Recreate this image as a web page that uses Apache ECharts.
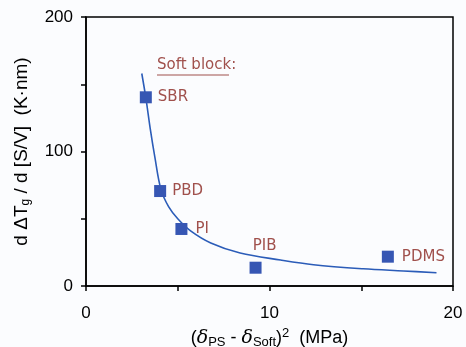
<!DOCTYPE html>
<html>
<head>
<meta charset="utf-8">
<script src="https://cdn.jsdelivr.net/npm/echarts@6/dist/echarts.min.js"></script>
<style>
  html, body { margin: 0; padding: 0; background: #fbfcfe; }
  #main { width: 466px; height: 347px; }
</style>
</head>
<body>
<div id="main"></div>
<script>
// measured points (soft block polymers)
const polymers = ['SBR', 'PBD', 'PI', 'PIB', 'PDMS'];
const deltaSq = [3.26, 4.04, 5.2, 9.24, 16.45];
const slope = [140.3, 70.6, 42.4, 13.6, 21.8];
const labelPos = ['right', 'right', 'right', 'top', 'right'];
const labelOffset = [[0, 0], [0, 0], [2, 0], [9, -2], [2, 0]];

// fitted curve
const fitX = [3.04, 3.26, 3.5, 3.75, 4.08, 4.5, 5.0, 5.7, 6.8, 8.4, 10.6, 12.4, 15.1, 17.3, 19.1];
const fitY = [158, 140, 117, 96, 72, 59, 50, 41, 32, 24.5, 19.3, 15.8, 12.8, 11.2, 9.9];

const labelColor = '#a0504c';
const markColor = '#3656b3';
const axisFont = 'Liberation Sans, Arial, sans-serif';
const tagFont = 'DejaVu Sans, Verdana, sans-serif';

const chart = echarts.init(document.getElementById('main'));

const pointData = polymers.map((n, i) => ({
    name: n,
    value: [deltaSq[i], slope[i]],
    label: { position: labelPos[i], offset: labelOffset[i] }
}));

chart.setOption({
    backgroundColor: '#fbfcfe',
    animation: false,
    grid: { left: 86, right: 13, top: 17, bottom: 61, containLabel: false, outerBoundsMode: 'none' },
    xAxis: {
        type: 'value', min: 0, max: 20, interval: 5,
        axisLine: { onZero: false, lineStyle: { color: '#000', width: 1.5 } },
        axisTick: { show: true, length: 5, lineStyle: { color: '#000', width: 1.5 } },
        splitLine: { show: false },
        axisLabel: {
            color: '#000', fontFamily: axisFont, fontSize: 17, margin: 19,
            formatter: v => (v % 10 === 0 ? String(v) : '')
        },
        name: '{t|(}{d|δ}{s|PS}{t| - }{d|δ}{s|Soft}{t|)}{p|2}{t|  (MPa)}',
        nameLocation: 'middle', nameGap: 35,
        nameTextStyle: {
            rich: {
                t: { fontFamily: axisFont, fontSize: 18, color: '#000' },
                d: { fontFamily: 'DejaVu Serif, serif', fontStyle: 'italic', fontSize: 19, color: '#000' },
                s: { fontFamily: axisFont, fontSize: 13, color: '#000', padding: [9, 0, 0, 0] },
                p: { fontFamily: axisFont, fontSize: 13, color: '#000', padding: [0, 0, 9, 0] }
            }
        }
    },
    yAxis: {
        type: 'value', min: 0, max: 200, interval: 50,
        axisLine: { onZero: false, lineStyle: { color: '#000', width: 1.5 } },
        axisTick: { show: true, length: 5, lineStyle: { color: '#000', width: 1.5 } },
        splitLine: { show: false },
        axisLabel: {
            color: '#000', fontFamily: axisFont, fontSize: 17, margin: 13,
            formatter: v => (v % 100 === 0 ? String(v) : '')
        },
        name: '{t|d ΔT}{s|g}{t| / d [S/V]  (K·nm)}',
        nameLocation: 'middle', nameGap: 54, nameRotate: 90,
        nameTextStyle: {
            rich: {
                t: { fontFamily: axisFont, fontSize: 19, color: '#000' },
                s: { fontFamily: axisFont, fontSize: 12, color: '#000', padding: [8, 0, 0, 0] }
            }
        }
    },
    series: [
        {
            type: 'line',
            data: fitX.map((x, i) => [x, fitY[i]]),
            smooth: 0.35,
            showSymbol: false,
            lineStyle: { color: '#2b5cb8', width: 1.6 },
            z: 2
        },
        {
            type: 'scatter',
            data: pointData,
            symbol: 'rect',
            symbolSize: 12,
            itemStyle: { color: markColor, opacity: 1 },
            label: {
                show: true,
                formatter: '{b}',
                color: labelColor,
                fontFamily: tagFont,
                fontSize: 15,
                distance: 6
            },
            z: 3
        }
    ],
    graphic: [
        // plot frame top and right
        { type: 'rect', shape: { x: 86, y: 17, width: 367, height: 269 }, style: { fill: 'none', stroke: '#000', lineWidth: 1.5 }, silent: true },
        { type: 'text', left: 157, top: 58, style: { text: 'Soft block:', fill: labelColor, font: '15px DejaVu Sans, Verdana, sans-serif' } },
        { type: 'line', shape: { x1: 157, y1: 75, x2: 229, y2: 75 }, style: { stroke: labelColor, lineWidth: 1.2 } }
    ]
});
</script>
</body>
</html>
